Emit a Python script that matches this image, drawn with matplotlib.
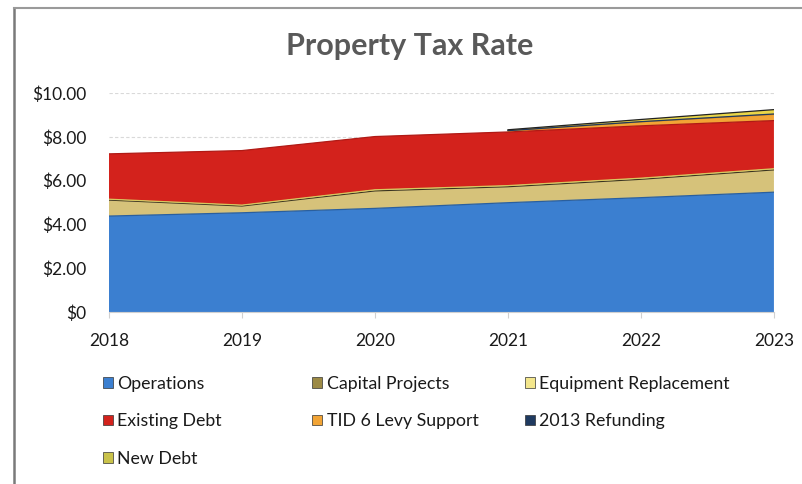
import numpy as np
import matplotlib.pyplot as plt
from matplotlib.patches import Patch
from matplotlib.lines import Line2D

plt.rcParams['font.family'] = ['Lato', 'DejaVu Sans']

years = [2018, 2019, 2020, 2021, 2022, 2023]
operations = [4.38, 4.53, 4.73, 4.99, 5.22, 5.47]
capital_projects = [0.73, 0.31, 0.80, 0.73, 0.84, 1.02]
equipment_replacement = [0.04, 0.04, 0.05, 0.05, 0.05, 0.05]
existing_debt = [2.07, 2.49, 2.43, 2.45, 2.39, 2.20]
tid6_levy_support = [np.nan, np.nan, np.nan, 0.05, 0.18, 0.28]
refunding_2013 = [np.nan, np.nan, np.nan, 0.01, 0.01, 0.02]
new_debt = [np.nan, np.nan, np.nan, 0.04, 0.10, 0.20]

series = [
    ('Operations', operations, '#3B7FD0', '#2a5f9e'),
    ('Capital Projects', capital_projects, '#D6C27A', '#3a3320'),
    ('Equipment Replacement', equipment_replacement, '#F3E68C', '#d8c860'),
    ('Existing Debt', existing_debt, '#D3221C', '#b01a15'),
    ('TID 6 Levy Support', tid6_levy_support, '#F2A435', '#d88a20'),
    ('2013 Refunding', refunding_2013, '#1F3A60', '#1F3A60'),
    ('New Debt', new_debt, '#EAD648', '#222222'),
]

ytick_vals = [0, 2, 4, 6, 8, 10]
ytick_labels = ['\\$0', '\\$2.00', '\\$4.00', '\\$6.00', '\\$8.00', '\\$10.00']

fig = plt.figure(figsize=(8.03, 4.84), dpi=100)
ax = fig.add_axes([0.1357, 0.3554, 0.8281, 0.4525])

x = np.array(years)
base = np.zeros(len(x))
for name, vals, color, edge in series:
    v = np.array(vals, dtype=float)
    mask = ~np.isnan(v)
    top = base + np.nan_to_num(v)
    ax.fill_between(x, base, top, where=mask, facecolor=color,
                    edgecolor='none', zorder=2)
    ax.plot(x[mask], top[mask], color=edge, lw=0.9, zorder=3)
    base = top

ax.set_xlim(2018, 2023)
ax.set_ylim(0, 10)
ax.set_xticks(years)
ax.set_xticklabels([str(y) for y in years], fontsize=12.5, color='#1a1a1a')
ax.set_yticks(ytick_vals)
ax.set_yticklabels(ytick_labels, fontsize=12.5, color='#1a1a1a')
ax.tick_params(axis='y', length=0, pad=16)
ax.tick_params(axis='x', length=4, color='#d0d0d0', pad=11)
ax.yaxis.grid(True, color='#d9d9d9', lw=0.8, ls=(0, (3, 2)))
ax.set_axisbelow(True)
for side in ['left', 'right', 'top']:
    ax.spines[side].set_visible(False)
ax.spines['bottom'].set_color('#d0d0d0')

fig.text(0.51, 0.905, 'Property Tax Rate', ha='center', va='center',
         fontsize=22, fontweight='bold', color='#595959')

# legend: three columns placed separately so the columns line up evenly
handles = {name: Patch(facecolor=color, edgecolor='#333333', lw=0.5)
           for name, vals, color, edge in series}
handles['Capital Projects'] = Patch(facecolor='#9C8A45', edgecolor='#333333', lw=0.5)
handles['New Debt'] = Patch(facecolor='#C9C24A', edgecolor='#333333', lw=0.5)
columns = [
    (0.128, ['Operations', 'Existing Debt', 'New Debt']),
    (0.389, ['Capital Projects', 'TID 6 Levy Support']),
    (0.654, ['Equipment Replacement', '2013 Refunding']),
]
for xpos, names in columns:
    fig.legend([handles[n] for n in names], names, loc='upper left',
               bbox_to_anchor=(xpos, 0.224), bbox_transform=fig.transFigure,
               frameon=False, fontsize=12.8, labelspacing=1.22,
               handlelength=0.55, handleheight=0.55, handletextpad=0.25,
               borderpad=0, borderaxespad=0, labelcolor='#1a1a1a')

# outer chart border
fig.add_artist(Line2D([0.017, 0.017], [0.0, 0.983], transform=fig.transFigure,
                      color='#7a7a7a', lw=1.8))
fig.add_artist(Line2D([0.017, 1.0], [0.983, 0.983], transform=fig.transFigure,
                      color='#9a9a9a', lw=1.5))

fig.savefig('out.png', dpi=100, facecolor='white')
